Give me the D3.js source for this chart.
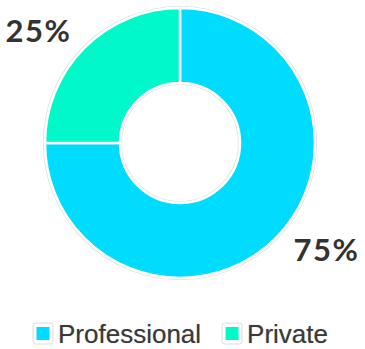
<!DOCTYPE html>
<html><head><meta charset="utf-8">
<script src="https://cdn.jsdelivr.net/npm/d3@7"></script>
<style>html,body{margin:0;padding:0;background:#fff;}svg{display:block;}</style>
</head><body>
<script>
const categories = ["Professional", "Private"];
const values = [75, 25];
const labels = ["75%", "25%"];
const colors = ["#00DCFE", "#00F8CA"];

const W = 365, H = 349;
const cx = 180, cy = 143, R = 135, r0 = 60;
const svg = d3.select("body").append("svg").attr("width", W).attr("height", H);
const color = d3.scaleOrdinal().domain(categories).range(colors);

const data = categories.map((c, i) => ({cat: c, value: values[i], label: labels[i]}));
const pie = d3.pie().sort(null).value(d => d.value);
const arcs = pie(data);
const arc = d3.arc().innerRadius(r0).outerRadius(R);

const g = svg.append("g").attr("transform", `translate(${cx},${cy})`);
g.append("circle").attr("r", R + 1.5).attr("fill", "none").attr("stroke", "#e2e2e2").attr("stroke-width", 1.2);
g.append("circle").attr("r", r0 - 1.5).attr("fill", "none").attr("stroke", "#e2e2e2").attr("stroke-width", 1.2);
g.selectAll("path.slice").data(arcs).enter().append("path")
  .attr("class", "slice")
  .attr("d", arc)
  .attr("fill", d => color(d.data.cat))
  .attr("stroke", "#fff").attr("stroke-width", 2.5).attr("stroke-linejoin", "miter");

// labels placed along the mid-angle of each slice (elliptical offset)
const Rx = 203.6, Ry = 155, fs = 31;
g.selectAll("text.pct").data(arcs).enter().append("text")
  .attr("class", "pct")
  .attr("x", d => { const a = (d.startAngle + d.endAngle) / 2; return Math.sin(a) * Rx + 2.5; })
  .attr("y", d => { const a = (d.startAngle + d.endAngle) / 2; return -Math.cos(a) * Ry - 2.8 + fs * 0.355; })
  .attr("text-anchor", "middle")
  .attr("font-family", "Lato, 'Open Sans', sans-serif").attr("font-weight", 700)
  .attr("font-size", fs).attr("letter-spacing", 1.5).attr("fill", "#333")
  .text(d => d.data.label);

// legend
const legendY = 333.5;
const lg = svg.append("g").attr("font-family", "'Liberation Sans', Arial, sans-serif").attr("font-size", 26);
let x = 33;
data.forEach((d, i) => {
  const item = lg.append("g").attr("transform", `translate(${x},${legendY})`);
  item.append("rect").attr("x", 0).attr("y", -10.5).attr("width", 20).attr("height", 21).attr("rx", 2.5)
    .attr("fill", "#fff").attr("stroke", "#dcdcdc").attr("stroke-width", 1);
  item.append("rect").attr("x", 3.5).attr("y", -6.5).attr("width", 13).attr("height", 13).attr("fill", color(d.cat));
  const t = item.append("text").attr("x", 25).attr("y", 0).attr("dominant-baseline", "central")
    .attr("fill", "#3a3a3a").style("text-shadow", "0 0 1px rgba(0,0,0,0.35)").text(d.cat);
  x += 25 + t.node().getComputedTextLength() + 21;
});
</script>
</body></html>
